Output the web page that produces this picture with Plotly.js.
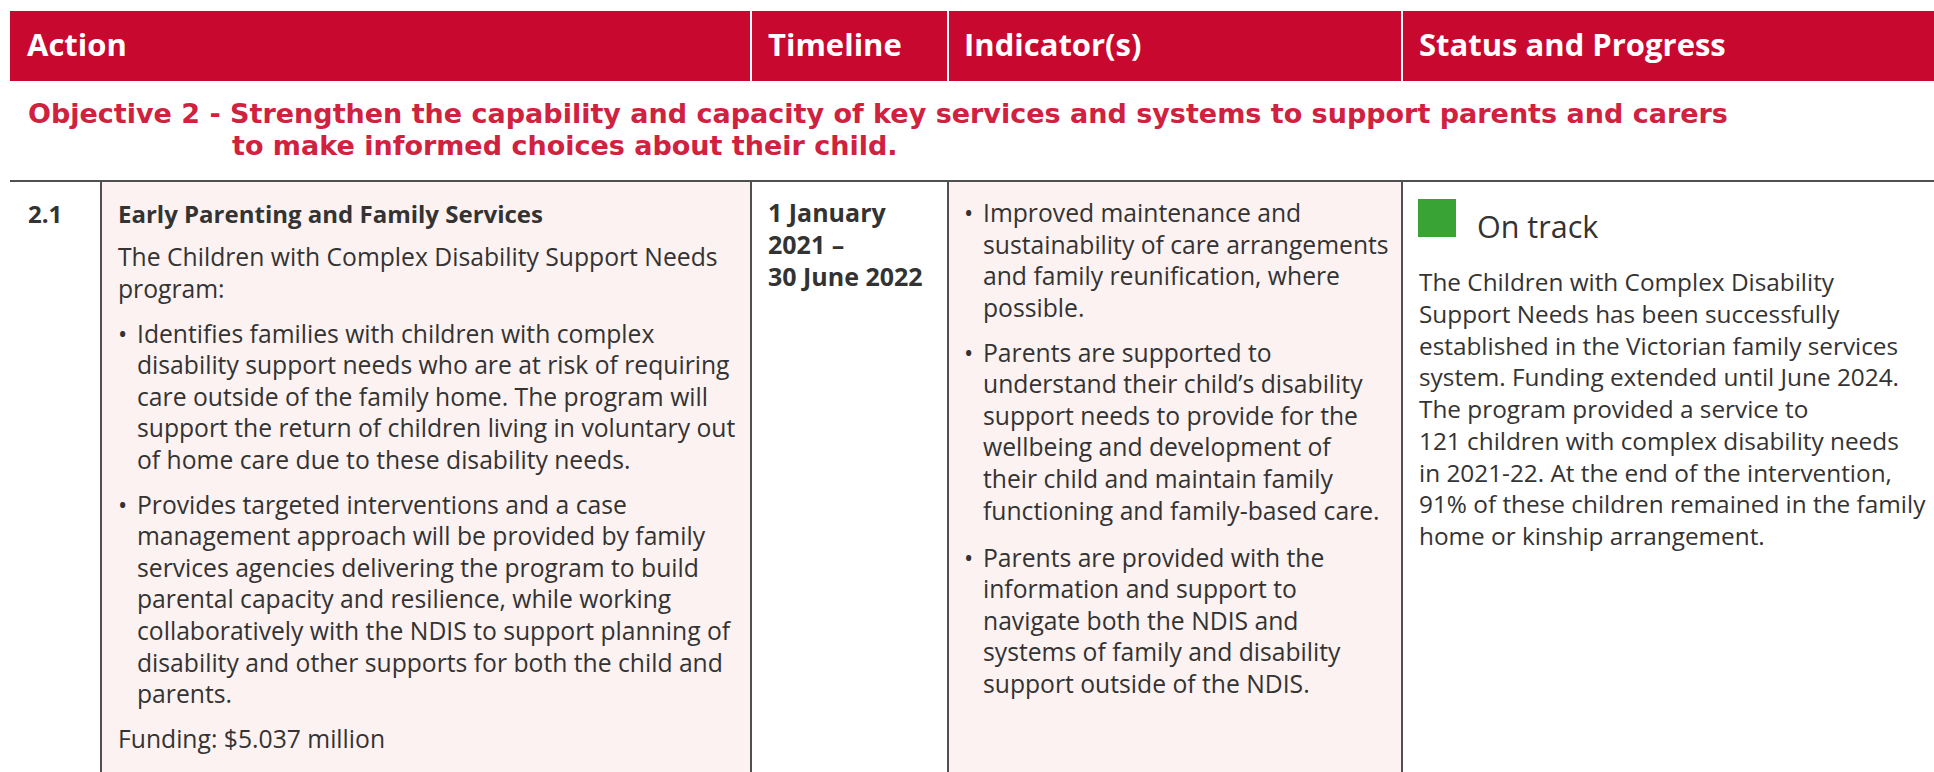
<!DOCTYPE html>
<html>
<head>
<meta charset="utf-8">
<script src="https://cdn.plot.ly/plotly-3.0.1.min.js"></script>
<style>
html,body{margin:0;padding:0;background:#fff;}
#chart{width:1934px;height:772px;}
</style>
</head>
<body>
<div id="chart"></div>
<script>
// ---------------- DATA (content only) ----------------
const headers = ['Action', 'Timeline', 'Indicator(s)', 'Status and Progress'];
const objectiveLines = [
  'Objective 2 - Strengthen the capability and capacity of key services and systems to support parents and carers',
  'to make informed choices about their child.'
];
const actionNumber = '2.1';
const actionTitle = 'Early Parenting and Family Services';
const actionIntro = ['The Children with Complex Disability Support Needs', 'program:'];
const actionBullet1 = [
  'Identifies families with children with complex',
  'disability support needs who are at risk of requiring',
  'care outside of the family home. The program will',
  'support the return of children living in voluntary out',
  'of home care due to these disability needs.'
];
const actionBullet2 = [
  'Provides targeted interventions and a case',
  'management approach will be provided by family',
  'services agencies delivering the program to build',
  'parental capacity and resilience, while working',
  'collaboratively with the NDIS to support planning of',
  'disability and other supports for both the child and',
  'parents.'
];
const actionFunding = 'Funding: $5.037 million';
const timelineLines = ['1 January', '2021 –', '30 June 2022'];
const indicatorBullet1 = [
  'Improved maintenance and',
  'sustainability of care arrangements',
  'and family reunification, where',
  'possible.'
];
const indicatorBullet2 = [
  'Parents are supported to',
  'understand their child’s disability',
  'support needs to provide for the',
  'wellbeing and development of',
  'their child and maintain family',
  'functioning and family-based care.'
];
const indicatorBullet3 = [
  'Parents are provided with the',
  'information and support to',
  'navigate both the NDIS and',
  'systems of family and disability',
  'support outside of the NDIS.'
];
const statusLabel = 'On track';
const statusLines = [
  'The Children with Complex Disability',
  'Support Needs has been successfully',
  'established in the Victorian family services',
  'system. Funding extended until June 2024.',
  'The program provided a service to',
  '121 children with complex disability needs',
  'in 2021-22. At the end of the intervention,',
  '91% of these children remained in the family',
  'home or kinship arrangement.'
];

// ---------------- LAYOUT / STYLE ----------------
const W = 1934, H = 772;
const FONT = 'Open Sans, Noto Sans, sans-serif';
const FONT_OBJ = 'DejaVu Sans, sans-serif';
const RED_HEAD = '#c9082f';
const RED_OBJ = '#d0213f';
const TEXT = '#333333';
const CELL = '#fbf2f1';
const GRID = '#505050';
const GREEN = '#3aa335';
const colX = [10, 101, 751, 948, 1402, W];
const rowTop = 181;
const BODY = 24.7;
const STATUS = 24.35;
const BOLD = 24;
const LH = 31.6;

const annotations = [];
function addLine(text, x, baseline, size, color, weight, family) {
  const fam = family || FONT;
  const k = fam === FONT_OBJ ? 0.346 : 0.388;
  annotations.push({
    xref: 'x', yref: 'y', x: x, y: baseline - k * size,
    xanchor: 'left', yanchor: 'middle', showarrow: false, borderpad: 0,
    text: text,
    font: {family: fam, size: size, color: color, weight: weight || 400}
  });
}
function addBlock(lines, x, start, lh, size, color, weight) {
  lines.forEach((t, i) => addLine(t, x, start + i * lh, size, color, weight));
}
function addBullet(lines, bx, tx, start) {
  addLine('•', bx, start, BODY, TEXT, 400);
  addBlock(lines, tx, start, LH, BODY, TEXT, 400);
}

// header
const headerX = [26, 767, 963, 1418];
headers.forEach((h, i) => addLine(h, headerX[i], 56, 31, '#ffffff', 700));
// objective
addLine(objectiveLines[0], 27, 123, 27, RED_OBJ, 700, FONT_OBJ);
addLine(objectiveLines[1], 231, 154.6, 27, RED_OBJ, 700, FONT_OBJ);
// number
addLine(actionNumber, 27, 223, BOLD, TEXT, 700);
// action column
addLine(actionTitle, 117, 223, BOLD, TEXT, 700);
addBlock(actionIntro, 117, 266, LH, BODY, TEXT, 400);
addBullet(actionBullet1, 117, 136, 342.7);
addBullet(actionBullet2, 117, 136, 513.7);
addLine(actionFunding, 117, 748.5, BODY, TEXT, 400);
// timeline
addBlock(timelineLines, 767, 222, 32, 25, TEXT, 700);
// indicators
addBullet(indicatorBullet1, 963, 982, 222);
addBullet(indicatorBullet2, 963, 982, 361.7);
addBullet(indicatorBullet3, 963, 982, 566.7);
// status
addLine(statusLabel, 1476, 238, 30.5, TEXT, 400);
addBlock(statusLines, 1418, 291, 31.75, STATUS, TEXT, 400);

const shapes = [];
function rect(x0, y0, x1, y1, fill) {
  shapes.push({type: 'rect', xref: 'x', yref: 'y', x0, y0, x1, y1, fillcolor: fill, line: {width: 0}, layer: 'below'});
}
function seg(x0, y0, x1, y1, color, w) {
  shapes.push({type: 'line', xref: 'x', yref: 'y', x0, y0, x1, y1, line: {color: color, width: w}, layer: 'above'});
}
// header band
rect(colX[0], 11, W, 81, RED_HEAD);
[colX[2], colX[3], colX[4]].forEach(x => seg(x, 11, x, 81, '#ffffff', 2));
// cell fills
rect(colX[1], rowTop, colX[2], H, CELL);
rect(colX[3], rowTop, colX[4], H, CELL);
// grid
seg(colX[0], rowTop, W, rowTop, GRID, 2);
[colX[1], colX[2], colX[3], colX[4]].forEach(x => seg(x, rowTop, x, H, GRID, 2));
// status square
rect(1418, 199, 1456, 237, GREEN);

const layout = {
  width: W, height: H,
  margin: {l: 0, r: 0, t: 0, b: 0, pad: 0},
  paper_bgcolor: '#ffffff', plot_bgcolor: '#ffffff',
  xaxis: {range: [0, W], visible: false, fixedrange: true},
  yaxis: {range: [H, 0], visible: false, fixedrange: true},
  showlegend: false,
  shapes: shapes,
  annotations: annotations
};
Plotly.newPlot('chart', [], layout, {displayModeBar: false, staticPlot: true});
</script>
</body>
</html>
